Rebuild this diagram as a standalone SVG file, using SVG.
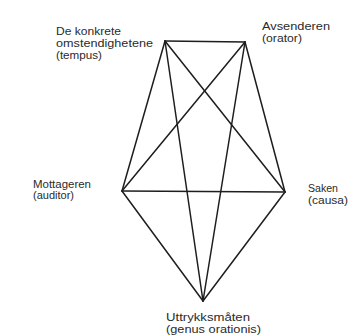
<svg xmlns="http://www.w3.org/2000/svg" width="350" height="336" viewBox="0 0 350 336">
<style>
.e{stroke:#1e1e1e;stroke-width:1.5;fill:none;stroke-linecap:round}
text{font-family:"Liberation Sans",Arial,sans-serif;font-size:10.5px;fill:#2a2a2a}
</style>
<rect width="350" height="336" fill="#fff"/>
<g id="connectors">
<line class="e" x1="165" y1="41" x2="245" y2="42"/>
<line class="e" x1="165" y1="41" x2="122" y2="191"/>
<line class="e" x1="165" y1="41" x2="285" y2="192"/>
<line class="e" x1="165" y1="41" x2="203" y2="301"/>
<line class="e" x1="245" y1="42" x2="122" y2="191"/>
<line class="e" x1="245" y1="42" x2="285" y2="192"/>
<line class="e" x1="245" y1="42" x2="203" y2="301"/>
<line class="e" x1="122" y1="191" x2="285" y2="192"/>
<line class="e" x1="122" y1="191" x2="203" y2="301"/>
<line class="e" x1="285" y1="192" x2="203" y2="301"/>
</g>
<g id="tempus">
<text x="56" y="35" textLength="65" lengthAdjust="spacingAndGlyphs">De konkrete</text>
<text x="56" y="47" textLength="97" lengthAdjust="spacingAndGlyphs">omstendighetene</text>
<text x="56" y="59" textLength="46" lengthAdjust="spacingAndGlyphs">(tempus)</text>
</g>
<g id="orator">
<text x="262" y="30" textLength="68" lengthAdjust="spacingAndGlyphs">Avsenderen</text>
<text x="262" y="42" textLength="40" lengthAdjust="spacingAndGlyphs">(orator)</text>
</g>
<g id="auditor">
<text x="33" y="188" textLength="58" lengthAdjust="spacingAndGlyphs">Mottageren</text>
<text x="33" y="199" textLength="41" lengthAdjust="spacingAndGlyphs">(auditor)</text>
</g>
<g id="causa">
<text x="308" y="192" textLength="30" lengthAdjust="spacingAndGlyphs">Saken</text>
<text x="308" y="204" textLength="40" lengthAdjust="spacingAndGlyphs">(causa)</text>
</g>
<g id="genus">
<text x="166" y="321" textLength="84" lengthAdjust="spacingAndGlyphs">Uttrykksmåten</text>
<text x="166" y="333" textLength="95" lengthAdjust="spacingAndGlyphs">(genus orationis)</text>
</g>
</svg>
